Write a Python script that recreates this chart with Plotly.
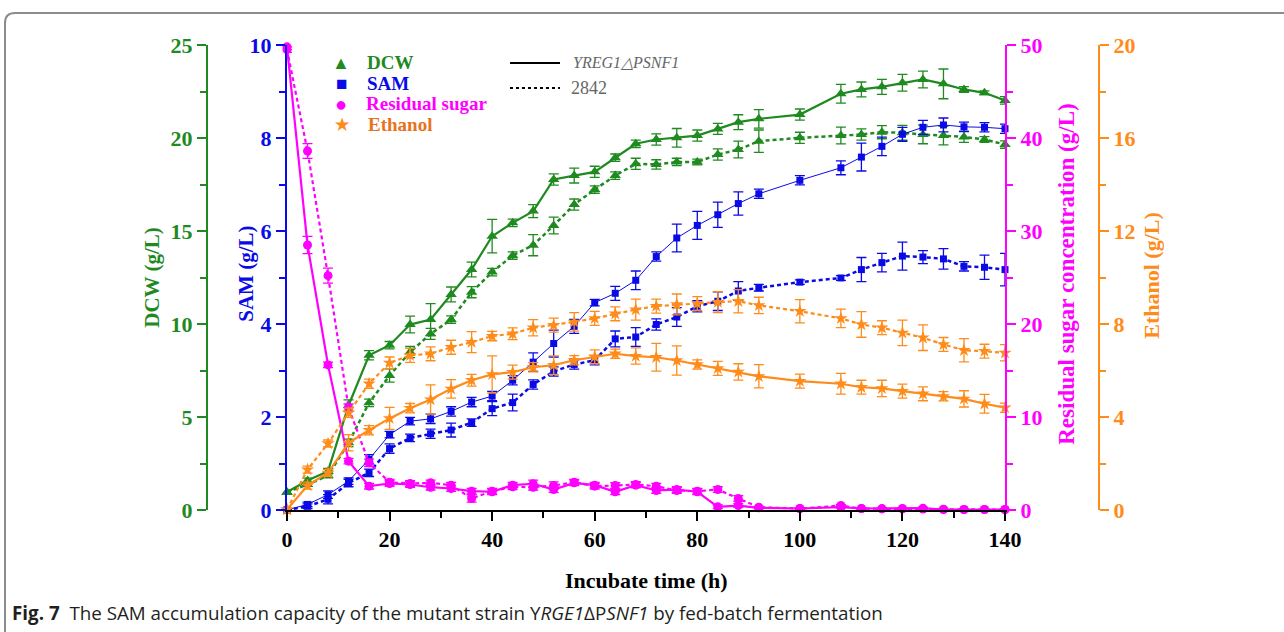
import plotly.graph_objects as go

# ---------------- data ----------------
time = [0, 4, 8, 12, 16, 20, 24, 28, 32, 36, 40, 44, 48, 52, 56, 60, 64, 68, 72, 76, 80, 84, 88, 92,
        100, 108, 112, 116, 120, 124, 128, 132, 136, 140]

dcw_mut = [0.96, 1.59, 2.09, 5.62, 8.32, 8.86, 9.97, 10.24, 11.59, 12.93, 14.72, 15.44, 16.07, 17.77, 17.98,
           18.18, 18.94, 19.69, 19.92, 20.01, 20.13, 20.49, 20.85, 21.03, 21.26, 22.38, 22.61, 22.75, 22.97,
           23.15, 22.91, 22.61, 22.43, 22.02]
dcw_mut_err = [0.1, 0.12, 0.15, 0.3, 0.25, 0.2, 0.45, 0.86, 0.4, 0.4, 0.9, 0.2, 0.35, 0.3, 0.4, 0.3, 0.2, 0.2,
               0.3, 0.5, 0.3, 0.3, 0.4, 0.5, 0.3, 0.5, 0.4, 0.4, 0.45, 0.45, 0.8, 0.15, 0.1, 0.2]
dcw_wt = [0.96, 1.37, 1.85, 3.61, 5.76, 7.23, 8.49, 9.47, 10.24, 11.71, 12.79, 13.68, 14.24, 15.30, 16.42,
          17.23, 17.98, 18.61, 18.58, 18.71, 18.71, 19.11, 19.38, 19.83, 20.01, 20.13, 20.19, 20.31, 20.28,
          20.19, 20.13, 20.06, 19.92, 19.65]
dcw_wt_err = [0.1, 0.1, 0.12, 0.2, 0.2, 0.36, 0.3, 0.3, 0.2, 0.3, 0.2, 0.2, 0.57, 0.45, 0.3, 0.2, 0.2, 0.3,
              0.25, 0.2, 0.15, 0.3, 0.45, 0.6, 0.3, 0.45, 0.3, 0.35, 0.4, 0.5, 0.5, 0.3, 0.15, 0.2]

sam_mut = [0.0, 0.12, 0.33, 0.62, 1.09, 1.62, 1.91, 1.96, 2.12, 2.32, 2.45, 2.79, 3.18, 3.58, 3.95, 4.46, 4.66,
           4.94, 5.45, 5.85, 6.12, 6.35, 6.59, 6.80, 7.09, 7.36, 7.59, 7.82, 8.08, 8.23, 8.28, 8.24, 8.23, 8.20]
sam_mut_err = [0.0, 0.05, 0.08, 0.07, 0.1, 0.07, 0.08, 0.1, 0.1, 0.1, 0.1, 0.1, 0.2, 0.29, 0.15, 0.07, 0.15,
               0.2, 0.1, 0.3, 0.3, 0.27, 0.25, 0.1, 0.1, 0.15, 0.3, 0.2, 0.15, 0.15, 0.15, 0.1, 0.1, 0.1]
sam_wt = [0.0, 0.08, 0.23, 0.58, 0.80, 1.32, 1.55, 1.64, 1.72, 1.88, 2.18, 2.31, 2.70, 2.98, 3.13, 3.22, 3.68,
          3.72, 3.99, 4.15, 4.38, 4.49, 4.71, 4.78, 4.90, 4.99, 5.17, 5.32, 5.46, 5.44, 5.40, 5.24, 5.22, 5.17]
sam_wt_err = [0.0, 0.05, 0.1, 0.08, 0.08, 0.1, 0.08, 0.1, 0.15, 0.08, 0.15, 0.18, 0.1, 0.1, 0.1, 0.1, 0.17,
              0.2, 0.12, 0.2, 0.12, 0.2, 0.2, 0.07, 0.05, 0.05, 0.26, 0.2, 0.3, 0.14, 0.22, 0.1, 0.26, 0.35]

sugar_mut = [49.8, 28.5, 15.6, 5.25, 2.56, 2.85, 2.74, 2.45, 2.31, 2.02, 1.96, 2.67, 2.82, 2.20, 2.92, 2.67,
             1.96, 2.67, 2.10, 2.20, 1.96, 0.34, 0.48, 0.23, 0.16, 0.30, 0.16, 0.15, 0.16, 0.20, 0.05, 0.05,
             0.05, 0.05]
sugar_mut_err = [0.3, 0.93, 0.3, 0.3, 0.3, 0.3, 0.3, 0.3, 0.3, 0.3, 0.3, 0.3, 0.4, 0.3, 0.3, 0.3, 0.3, 0.3,
                 0.3, 0.3, 0.3, 0.2, 0.2, 0.1, 0.1, 0.1, 0.1, 0.1, 0.1, 0.1, 0.05, 0.05, 0.05, 0.05]
sugar_wt = [49.5, 38.6, 25.2, 11.0, 5.08, 2.99, 2.85, 2.92, 2.67, 1.24, 2.02, 2.49, 2.45, 2.63, 2.99, 2.56,
            2.63, 2.74, 2.56, 2.10, 2.02, 2.20, 1.24, 0.30, 0.15, 0.48, 0.15, 0.12, 0.12, 0.10, 0.08, 0.05,
            0.05, 0.05]
sugar_wt_err = [0.3, 0.8, 0.8, 0.4, 0.4, 0.3, 0.3, 0.3, 0.3, 0.4, 0.3, 0.3, 0.3, 0.4, 0.3, 0.3, 0.3, 0.3,
                0.3, 0.3, 0.3, 0.3, 0.3, 0.1, 0.1, 0.1, 0.1, 0.1, 0.1, 0.1, 0.05, 0.05, 0.05, 0.05]

eth_mut = [0.02, 1.05, 1.60, 2.89, 3.43, 3.94, 4.38, 4.75, 5.21, 5.58, 5.83, 5.93, 6.14, 6.23, 6.44, 6.59,
           6.72, 6.62, 6.57, 6.43, 6.26, 6.09, 5.94, 5.75, 5.54, 5.43, 5.28, 5.23, 5.11, 5.00, 4.89, 4.78,
           4.57, 4.40]
eth_mut_err = [0.05, 0.15, 0.15, 0.35, 0.2, 0.47, 0.2, 0.63, 0.4, 0.25, 0.8, 0.3, 0.2, 0.4, 0.2, 0.3, 0.2,
               0.35, 0.6, 0.63, 0.2, 0.3, 0.35, 0.5, 0.3, 0.45, 0.3, 0.35, 0.3, 0.3, 0.2, 0.35, 0.4, 0.2]
eth_wt = [0.02, 1.74, 2.86, 4.18, 5.43, 6.33, 6.65, 6.72, 7.00, 7.22, 7.48, 7.58, 7.84, 7.95, 8.09, 8.24,
          8.44, 8.62, 8.77, 8.84, 8.88, 8.94, 8.98, 8.80, 8.55, 8.24, 7.98, 7.84, 7.62, 7.41, 7.12, 6.87,
          6.83, 6.76]
eth_wt_err = [0.05, 0.15, 0.15, 0.2, 0.2, 0.25, 0.3, 0.3, 0.3, 0.45, 0.2, 0.25, 0.35, 0.3, 0.4, 0.3, 0.3,
              0.45, 0.3, 0.45, 0.3, 0.45, 0.5, 0.35, 0.5, 0.4, 0.55, 0.3, 0.55, 0.55, 0.3, 0.5, 0.3, 0.35]

x_ticks = [0, 20, 40, 60, 80, 100, 120, 140]

# ---------------- style ----------------
GREEN = "#1f8a1f"
BLUE = "#0a0ae6"
MAGENTA = "#ff00ff"
ORANGE = "#ff8c1a"
ORANGE_TXT = "#e8721c"
SERIF = "Liberation Serif"

W, H = 1284, 632
ML, MR, MT, MB = 150, 100, 45, 121.5
PW = W - ML - MR
PH = H - MT - MB


def px(x):
    return (x - ML) / PW


def py(y):
    return (H - MB - y) / PH


X0, X1 = px(287), px(1005)

fig = go.Figure()


def add(y, err, color, dash, width, symbol, msize, axis):
    fig.add_trace(go.Scatter(
        x=time, y=y, yaxis=axis, mode="lines+markers",
        line=dict(color=color, width=width, dash=dash),
        marker=dict(symbol=symbol, size=msize, color=color),
        error_y=dict(type="data", array=err, visible=True, color=color, thickness=1.3, width=5),
        cliponaxis=False, showlegend=False))


DOT = "4px,3px"
add(sugar_wt, sugar_wt_err, MAGENTA, DOT, 2.2, "circle", 9, "y3")
add(sugar_mut, sugar_mut_err, MAGENTA, "solid", 2.2, "circle", 9, "y3")
add(eth_wt, eth_wt_err, ORANGE, DOT, 2.2, "star", 10, "y4")
add(eth_mut, eth_mut_err, ORANGE, "solid", 2.2, "star", 10, "y4")
add(sam_wt, sam_wt_err, BLUE, DOT, 2.5, "square", 7, "y2")
add(sam_mut, sam_mut_err, BLUE, "solid", 1.0, "square", 7, "y2")
add(dcw_wt, dcw_wt_err, GREEN, DOT, 2.5, "triangle-up", 10, "y")
add(dcw_mut, dcw_mut_err, GREEN, "solid", 2.2, "triangle-up", 10, "y")

TICK_SIZE = 22


def yax(color, rng, dtick, minor, **kw):
    d = dict(range=rng, dtick=dtick, tick0=0, showgrid=False, zeroline=False, showline=True,
             linecolor=color, linewidth=2, ticks="outside", ticklen=9, tickwidth=2, tickcolor=color,
             tickfont=dict(family=SERIF, size=TICK_SIZE, color=color, weight="bold"),
             minor=dict(dtick=minor, ticks="outside", ticklen=6, tickwidth=2, tickcolor=color, showgrid=False),
             domain=[0, 1])
    d.update(kw)
    return d


fig.update_layout(
    width=W, height=H, margin=dict(l=ML, r=MR, t=MT, b=MB),
    paper_bgcolor="white", plot_bgcolor="rgba(0,0,0,0)",
    xaxis=dict(domain=[X0, X1], range=[0, 140], tickvals=x_ticks, showgrid=False, zeroline=False,
               showline=True, linecolor="black", linewidth=2, ticks="outside", ticklen=9, tickwidth=2,
               tickcolor="black", tickfont=dict(family=SERIF, size=TICK_SIZE, color="black", weight="bold"),
               minor=dict(dtick=10, ticks="outside", ticklen=6, tickwidth=2, tickcolor="black"),
               anchor="y"),
    yaxis=yax(GREEN, [0, 25], 5, 2.5, anchor="free", position=px(207), side="left"),
    yaxis2=yax(BLUE, [0, 10], 2, 1, anchor="x", overlaying="y", side="left"),
    yaxis3=yax(MAGENTA, [0, 50], 10, 5, anchor="x", overlaying="y", side="right"),
    yaxis4=yax(ORANGE, [0, 20], 4, 2, anchor="free", overlaying="y", side="right", position=px(1099)),
)

ann = []


def text(x, y, t, color, size=20, angle=0, xanchor="center", family=SERIF, bold=True, italic=False):
    ann.append(dict(x=px(x), y=py(y), xref="paper", yref="paper", text=t, showarrow=False,
                    textangle=angle, xanchor=xanchor, yanchor="middle",
                    font=dict(family=family, size=size, color=color, weight="bold" if bold else "normal",
                              style="italic" if italic else "normal")))


# axis titles
text(152, 278, "DCW (g/L)", GREEN, 21, -90)
text(246, 274, "SAM (g/L)", BLUE, 21, -90)
text(1067, 275, "Residual sugar concentration (g/L)", MAGENTA, 23, -90)
text(1152, 276, "Ethanol (g/L)", ORANGE, 22, -90)
text(646, 581, "Incubate time (h)", "black", 22)

# legend (markers)
text(341, 63, "▲", GREEN, 18)
text(341, 84, "■", BLUE, 19)
text(341, 104, "●", MAGENTA, 20)
text(342, 125, "★", ORANGE, 16)
text(365, 63, "DCW", GREEN, 19, xanchor="left")
text(365, 84, "SAM", BLUE, 19, xanchor="left")
text(364, 104, "Residual sugar", MAGENTA, 19, xanchor="left")
text(366, 125, "Ethanol", ORANGE_TXT, 19, xanchor="left")
# legend (lines)
text(571, 63, "YREG1△PSNF1", "#666666", 16, xanchor="left", bold=False, italic=True)
text(569, 88, "2842", "#666666", 18, xanchor="left", bold=False)

# caption
ann.append(dict(x=px(10), y=py(614), xref="paper", yref="paper", showarrow=False, xanchor="left",
                yanchor="middle",
                text="<b>Fig. 7</b>  The SAM accumulation capacity of the mutant strain Y<i>RGE1</i>ΔP<i>SNF1</i> by fed-batch fermentation",
                font=dict(family="Open Sans", size=18.8, color="#231f20")))

fig.update_layout(annotations=ann)

# legend line samples and frame
shapes = [
    dict(type="line", xref="paper", yref="paper", x0=px(510), x1=px(560), y0=py(63), y1=py(63),
         line=dict(color="black", width=2)),
    dict(type="line", xref="paper", yref="paper", x0=px(510), x1=px(560), y0=py(88), y1=py(88),
         line=dict(color="black", width=2, dash="dot")),
]
l, t, r, b, rad = px(5), py(13), px(1300), py(650), 10
shapes.append(dict(type="path", xref="paper", yref="paper",
                   path=f"M {l},{b} L {l},{py(13 + rad)} Q {l},{t} {px(5 + rad)},{t} L {r},{t}",
                   line=dict(color="#8c8c8c", width=2)))
fig.update_layout(shapes=shapes)

fig.write_html("out.html")
